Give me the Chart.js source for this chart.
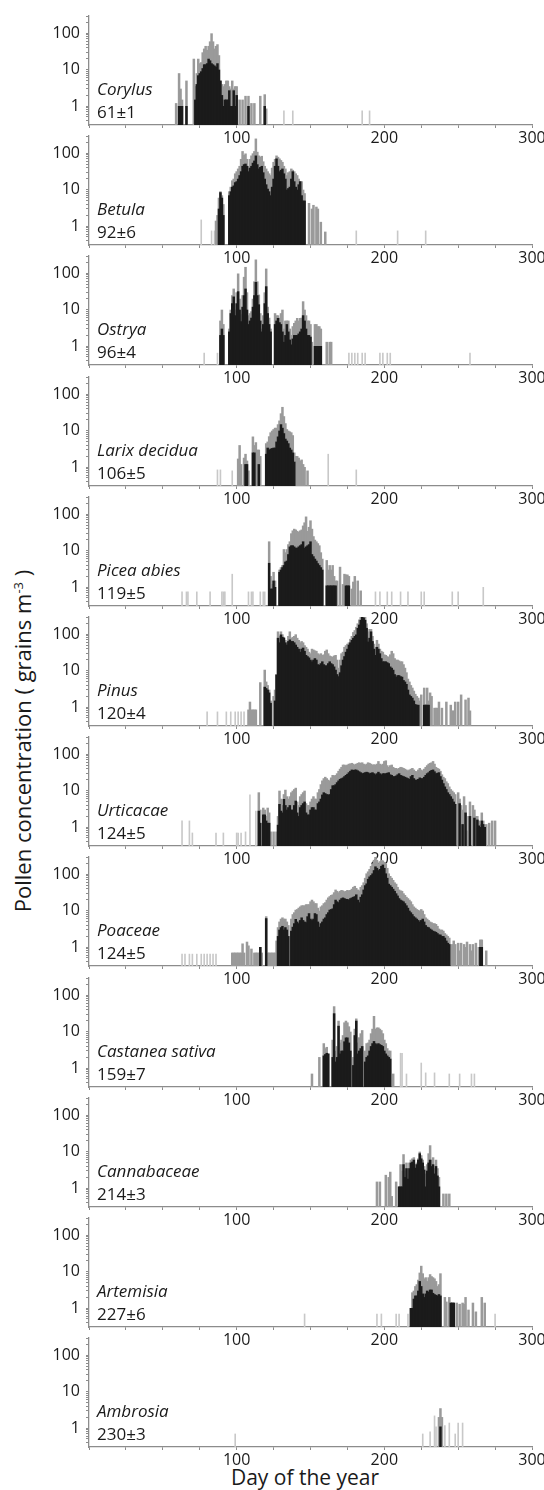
<!DOCTYPE html>
<html>
<head>
<meta charset="utf-8">
<script src="https://cdn.jsdelivr.net/npm/chart.js@4.4.0/dist/chart.umd.min.js"></script>
<style>
    body { margin: 0; background: #fff; width: 544px; height: 1490px; overflow: hidden; position: relative; font-family: "Open Sans", sans-serif; color: #1a1a1a; }
    canvas.panel { position: absolute; left: 0; }
    #ytitle { position: absolute; left: 22px; top: 741px; transform: translate(-50%, -50%) rotate(-90deg); white-space: nowrap; font-size: 22px; }
    #ytitle sup { font-size: 13px; }
    #xtitle { position: absolute; left: 305px; top: 1467px; transform: translateX(-50%); white-space: nowrap; font-size: 21px; line-height: 21px; }
</style>
</head>
<body>
<div id="ytitle">Pollen concentration ( grains m<sup>-3</sup> )</div>
<div id="xtitle">Day of the year</div>
<script>
// tick labels
var xTickLabels = [100, 200, 300];
var yTickLabels = [1, 10, 100];

// daily values: grey = total, black = core; arrays start at the given day
var corylusStart = 59;
var corylusGrey = [1.2,0,8,3,1.5,0,0,5,0,0, 0,0,20,3.5,8,20,15,16,30,38, 45,35,45,60,100,60,38,45,50,25, 5,4,3.5,4,5,5,3.5,3,5,3, 3.5,3.5,0,1.5,0,1.5,0,1.9,0,1.9, 0,1.2,0,1.2,0,0,0,1.9,0,0, 2.1,0.85];
var corylusBlack = [0,0,1,1,1,0,0,1,0,0, 0,0,0,1.5,4,7,8,9,11,14, 14,15,20,18,15,14,13,12,15,10, 5,2,1,1.5,1.5,1.5,2.7,1,1,2.7, 1,2,0,0,0,0,0,0,0,1, 0,0,0,0,0,0,0,0,0,0, 1,0];
var corylusLight = [[132,0.75],[138,0.75],[185,0.75],[190,0.75]];

var betulaStart = 86;
var betulaGrey = [1.4,2,6,9,7,4,0,0,0,9, 12,18,20,28,32,38,45,70,115,90, 99,70,45,70,87,100,115,255,110,87, 80,85,60,45,38,32,28,25,40,58, 70,87,80,72,65,58,45,38,25,30, 32,38,35,32,28,25,20,17,17,10, 8,0,0,4.3,0,3,3.8,0,3.4,3, 0,1.3,0,0,0.7];
var betulaBlack = [0,0,3,8.5,6,2,0,0,0,7, 9,12,13,16,17,20,25,32,45,50, 52,45,32,40,45,55,63,87,50,38, 42,45,30,20,14,10.6,9,7,12,20, 45,72,45,32,35,38,28,20,10,11, 12,20,32,17,12,10,14,17,7,5, 5,0,0,0,0,0,0,0,0,0, 0,0,0,0,0];
var betulaLight = [[76,1.5],[83,0.75],[85,0.75],[181,0.75],[209,0.75],[228,0.75]];

var ostryaStart = 89;
var ostryaGrey = [5,10,4,0,0,0,3,10,25,38, 10,30,99,20,7.5,25,80,150,30,7, 8,9,20,60,240,60,26,8,3,7, 30,135,12,6,3,0,0,8,7,7, 6,8,10,3,5,5,5,3,2,3.5, 4.3,5,5.9,5,5.9,6,17,10,7,5, 5,4,1.3,0,4,4,3.5,3.5,3,0, 0,0,1.3,0,1.3,1.3];
var ostryaBlack = [2,3,2,0,0,0,2.5,8,15,23, 7,15,32,10,4.8,12,25,38,10,4, 5,6,12,25,58,25,14,5,2.5,4, 15,44,8,4,2.5,0,0,4,5,5.9, 4.5,4,2.5,1.3,2,4,2.5,1.5,1.1,1.6, 2,2,2,2.2,2.5,3,7,5,3,2, 2,1.8,0,0,1,1,1,1,1,0, 0,0,0,0,0,0];
var ostryaLight = [[78,0.65],[87,0.65],[176,0.65],[178,0.65],[180,0.65],[182,0.65],[185,0.65],[187,0.65],[197,0.65],[199,0.65],[202,0.65],[204,0.65],[258,0.65]];

var larixStart = 101;
var larixGrey = [1.7,4,1.2,0,1.8,2.3,1.5,0.8,0,0, 6.9,4,4.8,3,3,2,0,0,0,4.5, 5,7,9,10,11,12,12,15,19,30, 45,25,16,11,10,9.5,9,7.5,2.5,2, 2,1.8,1.5,1.6,1.2,1,0,0.8];
var larixBlack = [0,0,0,0,0,1.2,1.2,0,0,0, 2.5,2.5,0,0,1.2,0,0,0,0,2.3, 3.4,3,3.2,3.3,3.4,3.4,5,6.9,10,15, 12,8.5,6,5.3,4.5,3.4,3,2.5,1.4,0, 0,0,0,0,0,0,0,0];
var larixLight = [[87,0.85],[89,0.85],[97,0.8],[162,2.3],[181,0.85]];

var piceaStart = 122;
var piceaGrey = [18,2,1.2,2.6,1.5,0,0,3,3.5,4, 11,9,11,15,18,30,36,40,38,35, 33,36,38,49,60,87,35,45,68,40, 25,20,18,16,14,9,6,0,0,5.5, 3,4,3,4,2,1.5,1.5,0,3.6,0, 1.2,2.3,2.2,2.2,2,0,0.9,1.4,2,0, 1.5,0,0.8];
var piceaBlack = [4.6,0.9,0.9,1.5,1,0,0,2.6,3,3.5, 4,5,5.3,8,13,14,14,13,12,12, 13,14,15,18,12,13,14,15,18,8, 7,6,5.3,4.5,4,3.5,3,0,0,1.1, 1.1,1.1,1.1,1.1,1.1,1.1,0,0,0,0, 0,0,1.1,1.1,1.1,0,0,0,0,0, 0,0,0];
var piceaLight = [[63,0.75],[66,0.75],[67,0.75],[73,0.75],[82,0.75],[90,0.75],[91,0.75],[92,0.75],[97,2.3],[108,0.75],[110,0.75],[111,0.75],[116,0.75],[118,0.75],[119,0.75],[194,0.75],[197,0.75],[202,0.75],[205,0.75],[211,0.75],[216,0.75],[225,0.75],[227,0.75],[246,0.75],[250,0.75],[267,1]];

var pinusStart = 108;
var pinusGrey = [0.85,1.4,0.85,0.85,0.85,0.85,0,0,4.8,0, 0,10.6,5,4,3,1.5,0,2,3,8, 120,90,120,100,85,70,60,90,120,80, 85,90,100,80,70,60,65,60,50,45, 40,33,30,40,38,36,35,30,28,30, 27,28,35,38,30,26,25,24,26,27, 20,12,20,30,33,45,50,55,60,75, 90,115,130,160,200,255,300,340,310,300, 200,120,140,140,90,55,45,70,55,40, 35,33,28,27,25,24,28,35,30,22, 20,20,19,18,18,15,12,9,6,5, 4,3.4,2.8,2.3,2,1.8,1.5,2.2,0,3.4, 1.2,3.4,1.5,2.5,2,0,0.95,0.95,0.95,1.4, 0,0.95,0,0,1.4,0,0,1.15,0.8,0.8, 1.4,0,1.4,0,2.2,0,0,1.6,0,1.8, 0.8];
var pinusBlack = [0,0,0,0,0,0,0,0,0,0, 0,3.6,3.3,3,2.5,1.3,0,0,1.5,7.8, 80,60,99,85,80,60,52,65,72,65, 65,60,52,45,40,33,40,43,35,27, 25,23,20,18,20,22,20,15,14.5,16, 18,15,14,14,16,18,16,15,13,10.6, 8,7,9,14,20,25,33,40,52,60, 70,80,90,99,150,185,250,310,290,250, 150,63,80,120,65,40,27,45,40,30, 22,18,18,18,17,16,13,12,10.6,8, 6.8,7.5,7.5,7,6.8,5.5,5,4.3,3,2.2, 2,1.8,1.5,1.2,1.15,1.15,0,0,0,1.15, 1.15,1.15,1.15,0,0,0,0,0,0,0, 0,0,0,0,0,0,0,0,0,0, 0,0,0,0,0,0,0,0,0,0, 0];
var pinusLight = [[80,0.75],[87,0.75],[93,0.75],[96,0.75],[99,0.75],[101,0.75],[103,0.75],[105,0.75]];

var urticaStart = 115;
var urticaGrey = [9,3,0,3.4,3,2,3.4,2.5,0.75,0, 0.75,0,0.75,2,10,6,4,8,10.6,7, 6,7,9,10,11,12,5,4,7,8, 9,10,4.5,4,4,5,6,7,6,6, 9,11,15,19,22,24,22,20,19,23, 27,26,27,30,35,40,45,52,52,50, 52,55,56,58,55,52,55,58,60,58, 60,55,52,55,60,58,55,52,53,52, 55,65,55,52,55,65,68,50,45,50, 52,45,42,42,40,42,45,44,42,40, 38,36,38,40,42,38,35,34,38,42, 38,36,40,45,50,55,58,60,65,55, 45,42,40,35,28,24,22,18,16,13, 11,10,9,8,0,9,6,4,3,7, 4,0.8,2,5,0,4,3,2,2,1.5, 1.2,2.5,1.5,1,1.2,0,1.3,0,1.5,0, 1.5];
var urticaBlack = [2.8,1.3,0,2.2,2.2,1.5,1.3,1.3,0,0, 0,0,0,1.15,4.3,2.8,2.5,5.9,4,3, 3.5,4,3,3,4,5.3,2.5,2,3.5,4, 4.5,5,2.5,2.2,2.2,3,3.5,3.5,3,3, 4.5,5,6,7.8,9,8.5,8,7.8,8,11, 14,14,15,17,19,21,22,23,25,27, 29,32,35,38,37,38,38,36,34,32, 30,31,32,33,32,30,31,32,30,28, 30,33,30,28,30,30,30,31,32,28, 27,25,25,26,28,30,27,26,25,24, 23,22,21,25,27,22,20,20,21,23, 22,22,24,27,30,32,35,37,38,34, 30,31,32,25,20,16,13,11,9,8, 7,6,5,4.3,0,0,4.5,0,1.2,0, 2.5,0,0,2,0,0,1.8,0,1.6,1.1, 1,1.5,1.2,1,0,0,0,0,0,0, 0];
var urticaLight = [[63,1.5],[68,1.5],[70,0.7],[86,0.7],[91,0.7],[100,0.7],[101,0.7],[103,0.7],[106,0.75],[109,7.8],[113,2.8]];

var poaceaeStart = 97;
var poaceaeGrey = [0.7,0.7,0.7,0.7,0.7,0.7,0.7,1.25,0.7,0, 1.4,1.1,0,0.9,0,0.7,0.7,0.7,0.7,1, 0.7,0,0,7,0.7,0.7,0.7,0.7,0.7,0.7, 1.5,3.5,5,6,6.5,6,6,5,4,0, 6,8,9,10.6,11,12,13,14,14,14, 15,15,15,18,20,18,16,16,12,10, 13,14,16,17,20,23,25,27,28,32, 38,35,32,35,37,36,34,35,37,36, 37,40,45,48,42,38,36,45,50,60, 80,106,120,140,170,200,250,310,250,200, 230,250,240,220,200,150,106,90,80,70, 60,55,45,38,36,35,30,27,24,22, 20,18,15,13,12,11,10.5,10,11,10, 8,6.5,6,5.5,5,4.8,4.5,4.5,4.3,3.8, 3.2,3,3,2.8,2.4,2.2,2,1.8,0,1.2, 1.5,1.2,0,1.3,0.8,1.3,0,1.2,1,1.4, 0,1.2,0.8,1.2,0,1.3,0,1,1.6,1.6, 0,0,0.8];
var poaceaeBlack = [0,0,0,0,0,0,0,0,0,0, 0,0,0,0,0,0,0,0,0,1, 0,0,0,6.2,0,0,0,0,0,0, 0,2,3,3.5,3.8,3,3.5,3,2,0, 2.8,3.6,4.5,5.9,5,4.5,5.5,6.5,5.5,5, 4.8,7,8.5,6,5.5,6,8.5,8,5,3.6, 4.5,5,6,6.5,8,9,10.6,11,11.5,15, 20,18,17,20,22,23,22,21,21,20, 22,23,24,25,28,20,17,24,28,38, 50,56,75,87,95,106,130,165,150,130, 140,170,185,150,106,80,55,50,45,40, 35,30,26,22,20,19,18,16,14,12, 10,9,8,7,6.5,6,5.5,5,5.5,6, 5,4,3.6,3.5,3.2,3,2.8,2.7,2.6,2.4, 2.2,2.2,2,2,1.8,1.5,1.3,1.2,0,0, 0,0,0,0,0,0,0,0,0,0, 0,0,0,0,0,0,0,0,1,1, 0,0,0];
var poaceaeLight = [[63,0.65],[65,0.65],[68,0.65],[70,0.65],[73,0.65],[76,0.65],[78,0.65],[80,0.65],[82,0.65],[84,0.65],[86,0.65]];

var castaneaStart = 151;
var castaneaGrey = [0.7,0,0,0,0,2,0,0,4.8,3.5, 3.8,2.5,0,0,6,50,3,4,20,5, 6,8,18,20,18,14,10,0,2,12, 23,5,7,9,11,0,3,4.8,5,6, 9,12,27,12,13,13,12,11,9,6, 4.8,3.5,3,3,0,0.7];
var castaneaBlack = [0,0,0,0,0,0,0,0,2.2,2.4, 2.6,2.5,0,0,2,32,1.5,2,14.5,2.5, 3,3,5.4,6.9,6.9,5,3,0,1.2,8, 20,2.5,3,3.5,4,0,1.5,2,2.2,3, 4,4.8,5.5,4.8,4.5,4.8,4.5,4.3,4,3, 2.5,2.2,2,1.8,0,0];
var castaneaLight = [[211,2.6],[212,2.6],[215,0.7],[225,1.4],[228,0.75],[234,0.75],[244,0.7],[251,0.7],[259,0.7],[261,0.7]];

var cannabisStart = 195;
var cannabisGrey = [1.5,0,1.5,0,0,0,2.3,0,2,2.8, 0.6,0,0,1.5,0,1.1,4.5,3,8.5,3, 5,3.5,5,6,6.5,7,4.5,5,6.5,10, 8,6,4,2.5,4.5,9,15,6,7,3.5, 6,3.5,2,0,0,0.7,0,0.7,0,0.7];
var cannabisBlack = [0,0,0,0,0,0,0,0,0,0, 0,0,0,0,0,1.1,1.1,1.1,4.5,2, 3.5,1.8,3.5,5,5.3,6,3.6,4.5,6,9, 6.5,5,3.2,1.1,3,5,6,4,4.5,2.5, 4,2.2,1.1,0,0,0,0,0,0,0];
var cannabisLight = [];

var artemisiaStart = 218;
var artemisiaGrey = [1,2.7,3,4,4.5,6,9.4,14.5,9,6.5, 7,5.5,7,8.5,7.5,7,6.5,5.5,4,4.5, 9,0,0,2,1.5,0,2,1.4,1.4,1.4, 0,1.4,0,1.3,0,1.4,1.3,2,0,0.9, 0,0,1.4,0,0.8,0,0,0,2,0, 1.4];
var artemisiaBlack = [1,1,1.8,2.2,2.2,3,5.5,4,2.5,2, 2.5,3,2.8,3.2,3.2,2.6,2.4,2.3,2.2,2.4, 2.2,0,0,0,0,0,0,1.4,1.4,1.4, 0,0,0,0,0,0,0,0,0,0, 0,0,0,0,0,0,0,0,0,0, 0];
var artemisiaLight = [[146,0.7],[195,0.7],[198,0.7],[208,0.7],[210,0.7],[216,0.7],[275,0.7]];

var ambrosiaStart = 237;
var ambrosiaGrey = [2,3.5,2];
var ambrosiaBlack = [0,1.1,0];
var ambrosiaLight = [[99,0.7],[226,0.7],[231,0.8],[234,2.2],[235,1.1],[241,1.2],[244,1.4],[248,0.7],[250,1.4],[253,1.4]];

var taxa = [
    { name: "Corylus", peak: "61±1", start: corylusStart, grey: corylusGrey, black: corylusBlack, light: corylusLight },
    { name: "Betula", peak: "92±6", start: betulaStart, grey: betulaGrey, black: betulaBlack, light: betulaLight },
    { name: "Ostrya", peak: "96±4", start: ostryaStart, grey: ostryaGrey, black: ostryaBlack, light: ostryaLight },
    { name: "Larix decidua", peak: "106±5", start: larixStart, grey: larixGrey, black: larixBlack, light: larixLight },
    { name: "Picea abies", peak: "119±5", start: piceaStart, grey: piceaGrey, black: piceaBlack, light: piceaLight },
    { name: "Pinus", peak: "120±4", start: pinusStart, grey: pinusGrey, black: pinusBlack, light: pinusLight },
    { name: "Urticacae", peak: "124±5", start: urticaStart, grey: urticaGrey, black: urticaBlack, light: urticaLight },
    { name: "Poaceae", peak: "124±5", start: poaceaeStart, grey: poaceaeGrey, black: poaceaeBlack, light: poaceaeLight },
    { name: "Castanea sativa", peak: "159±7", start: castaneaStart, grey: castaneaGrey, black: castaneaBlack, light: castaneaLight },
    { name: "Cannabaceae", peak: "214±3", start: cannabisStart, grey: cannabisGrey, black: cannabisBlack, light: cannabisLight },
    { name: "Artemisia", peak: "227±6", start: artemisiaStart, grey: artemisiaGrey, black: artemisiaBlack, light: artemisiaLight },
    { name: "Ambrosia", peak: "230±3", start: ambrosiaStart, grey: ambrosiaGrey, black: ambrosiaBlack, light: ambrosiaLight }
];

// panel geometry
var FIRST_AXIS = 125, PITCH = 120.2;
var PAD_TOP = 24, AREA_H = 109, XAXIS_H = 24;

Chart.defaults.font.family = '"Open Sans", sans-serif';
Chart.defaults.font.size = 16;
Chart.defaults.color = "#1a1a1a";

// turn a day-indexed array into bar points, skipping empty days
function toPoints(start, values) {
    var pts = [];
    values.forEach(function (v, i) {
        if (v > 0) pts.push({ x: start + i, y: v });
    });
    return pts;
}

var taxonLabel = {
    id: "taxonLabel",
    afterDraw: function (chart, args, opts) {
        var ctx = chart.ctx, area = chart.chartArea;
        ctx.save();
        ctx.fillStyle = "#1a1a1a";
        ctx.textBaseline = "alphabetic";
        ctx.font = 'italic 17px "Open Sans"';
        ctx.fillText(opts.name, area.left + 8, area.bottom - 30);
        ctx.font = '17px "Open Sans"';
        ctx.fillText(opts.peak, area.left + 8, area.bottom - 7);
        ctx.restore();
    }
};

var xTicks = [];
for (var d = 0; d <= 300; d += 25) xTicks.push(d);
var yTicks = [];
[0.1, 1, 10, 100].forEach(function (dec) {
    for (var k = 1; k <= 9; k++) {
        var v = +(k * dec).toPrecision(2);
        if (v >= 0.4 && v <= 300) yTicks.push(v);
    }
});

taxa.forEach(function (t, i) {
    var axisY = Math.round(FIRST_AXIS + PITCH * i);
    var canvas = document.createElement("canvas");
    canvas.className = "panel";
    canvas.width = 548;
    canvas.height = PAD_TOP + AREA_H + XAXIS_H;
    document.body.appendChild(canvas);

    var chart = new Chart(canvas.getContext("2d"), {
        type: "bar",
        data: {
            datasets: [
                { data: toPoints(t.start, t.black), backgroundColor: "#1b1b1b", barPercentage: 1.7, order: 1 },
                { data: toPoints(t.start, t.grey), backgroundColor: "#9a9a9a", barPercentage: 1.7, order: 2 },
                { data: t.light.map(function (p) { return { x: p[0], y: p[1] }; }), backgroundColor: "#c8c8c8", barPercentage: 1.1, order: 3 }
            ]
        },
        options: {
            responsive: false,
            maintainAspectRatio: false,
            animation: false,
            layout: { padding: { left: 30, right: 16, top: PAD_TOP, bottom: 0 } },
            datasets: { bar: { grouped: false, categoryPercentage: 1, borderWidth: 0, inflateAmount: 0 } },
            plugins: {
                legend: { display: false },
                tooltip: { enabled: false },
                taxonLabel: { name: t.name, peak: t.peak }
            },
            scales: {
                x: {
                    type: "linear",
                    offset: false,
                    min: 0,
                    max: 300,
                    afterFit: function (s) { s.height = XAXIS_H; },
                    afterBuildTicks: function (s) { s.ticks = xTicks.map(function (v) { return { value: v }; }); },
                    ticks: {
                        autoSkip: false,
                        maxRotation: 0,
                        padding: 1,
                        callback: function (v) { return xTickLabels.indexOf(v) >= 0 ? String(v) : ""; }
                    },
                    grid: { offset: false, drawOnChartArea: false, tickLength: 3, color: "#8c8c8c" },
                    border: { color: "#8c8c8c", width: 1.3 }
                },
                y: {
                    type: "logarithmic",
                    min: 0.32,
                    max: 300,
                    afterFit: function (s) { s.width = 59; },
                    afterBuildTicks: function (s) { s.ticks = yTicks.map(function (v) { return { value: v }; }); },
                    ticks: {
                        autoSkip: false,
                        padding: 6,
                        callback: function (v) { return yTickLabels.indexOf(v) >= 0 ? String(v) : ""; }
                    },
                    grid: { drawOnChartArea: false, tickLength: 3, color: "#8c8c8c" },
                    border: { color: "#8c8c8c", width: 1.3 }
                }
            }
        },
        plugins: [taxonLabel]
    });

    // make the plot area exactly AREA_H tall, then sit its bottom on the panel's axis line
    var area = chart.chartArea;
    var diff = AREA_H - (area.bottom - area.top);
    if (Math.abs(diff) > 0.5) {
        chart.resize(548, Math.round(canvas.height + diff));
        area = chart.chartArea;
    }
    canvas.style.top = (axisY - area.bottom) + "px";
});
</script>
</body>
</html>
